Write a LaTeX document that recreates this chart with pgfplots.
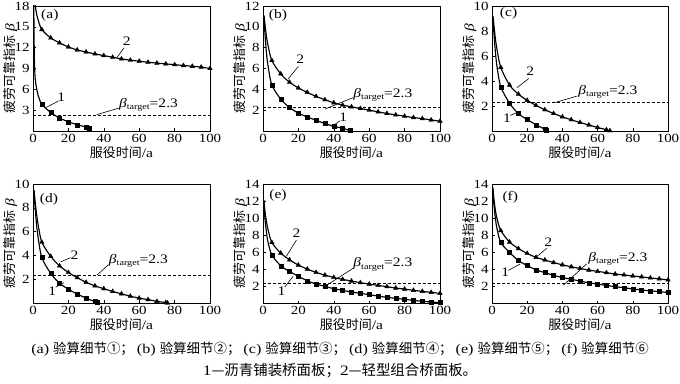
\documentclass[border=0pt]{standalone}
\usepackage{fontspec}
\setmainfont{Liberation Serif}[FakeStretch=1.2]
\newfontfamily\cjk{Noto Sans CJK SC}
\usepackage{pgfplots}
\usepackage{pgfplotstable}
\pgfplotsset{compat=1.18}

\pgfplotstableread{
x y
1.1 18.3
2 16.9
3 15.9
5 14.6
10 13.4
15 12.7
20 12.1
25 11.67
30 11.38
35 11.1
40 10.86
45 10.62
50 10.38
55 10.2
60 10.05
65 9.9
70 9.78
75 9.66
80 9.55
85 9.43
90 9.32
95 9.2
100 9.0
}\aTwo
\pgfplotstableread{
x y
0.45 18.5
0.7 11.5
1 8.6
1.5 6.95
3 5.05
5 3.86
10 2.67
15 1.86
20 1.33
25 0.9
30 0.57
31.5 0.45
}\aOne
\pgfplotstableread{
x y
0.6 11.1
1 10.4
2 9.0
3 8.1
5 6.77
10 5.48
15 4.68
20 4.13
25 3.71
30 3.32
35 3.0
40 2.71
45 2.48
50 2.32
55 2.16
60 2.0
65 1.84
70 1.68
75 1.55
80 1.42
85 1.29
90 1.19
95 1.06
100 0.94
}\bTwo
\pgfplotstableread{
x y
0.6 11.0
1 9.6
2 7.4
3 6.1
5 4.42
10 3.06
15 2.26
20 1.71
25 1.35
30 1.03
35 0.71
40 0.45
45 0.26
49 0.05
}\bOne
\pgfplotstableread{
x y
0.6 9.2
1 8.6
2 7.3
3 6.4
5 5.08
10 3.67
15 2.95
20 2.45
25 2.05
30 1.7
35 1.4
40 1.13
45 0.9
50 0.68
55 0.48
60 0.28
65 0.1
67 0.02
}\cTwo
\pgfplotstableread{
x y
0.6 9.0
1 8.0
2 6.2
3 5.0
5 3.53
10 2.22
15 1.39
20 0.92
25 0.5
30 0.14
30.8 0.05
}\cOne
\pgfplotstableread{
x y
0.6 9.5
1 8.8
2 7.5
3 6.5
5 5.11
10 3.92
15 3.12
20 2.57
25 2.13
30 1.74
35 1.44
40 1.2
45 0.97
50 0.77
55 0.57
60 0.41
65 0.28
70 0.14
75 0.03
76 0.0
}\dTwo
\pgfplotstableread{
x y
0.6 9.4
1 8.4
2 6.6
3 5.4
5 3.81
10 2.49
15 1.66
20 1.16
25 0.75
30 0.41
35 0.11
36 0.03
}\dOne
\pgfplotstableread{
x y
0.5 12.1
1 11.0
2 9.5
3 8.5
5 7.12
10 5.87
15 5.08
20 4.46
25 3.99
30 3.6
35 3.28
40 3.01
45 2.78
50 2.58
55 2.39
60 2.23
65 2.07
70 1.92
75 1.76
80 1.64
85 1.49
90 1.37
95 1.25
100 1.13
}\eTwo
\pgfplotstableread{
x y
0.5 12.1
1 10.2
2 8.2
3 7.0
5 5.67
10 4.38
15 3.72
20 3.13
25 2.62
30 2.23
35 1.96
40 1.68
45 1.49
50 1.29
55 1.13
60 0.98
65 0.82
70 0.66
75 0.55
80 0.43
85 0.31
90 0.2
95 0.12
100 0.04
}\eOne
\pgfplotstableread{
x y
0.5 13.6
1 12.4
2 10.8
3 9.8
5 8.52
10 7.17
15 6.41
20 5.83
25 5.37
30 5.06
35 4.76
40 4.49
45 4.26
50 4.07
55 3.87
60 3.72
65 3.57
70 3.41
75 3.3
80 3.18
85 3.07
90 2.95
95 2.84
100 2.72
}\fTwo
\pgfplotstableread{
x y
0.5 13.4
1 11.8
2 9.8
3 8.6
5 7.1
10 5.95
15 4.99
20 4.41
25 3.91
30 3.57
35 3.26
40 2.99
45 2.8
50 2.57
55 2.38
60 2.22
65 2.07
70 1.92
75 1.8
80 1.65
85 1.53
90 1.42
95 1.34
100 1.23
}\fOne

\pgfplotsset{
  panel/.style={
    scale only axis, width=177bp,
    xmin=0, xmax=100, ymin=0,
    xtick={0,20,...,100},
    tick align=inside, tick pos=left, major tick length=2.5bp,
    axis line style={line width=0.8pt},
    every tick/.style={line width=0.6pt, black},
    ticklabel style={font=\fontsize{12.5}{12.5}\selectfont},
    /pgf/number format/assume math mode=true,
    xlabel={{\cjk 服役时间}/a},
    ylabel={{\cjk 疲劳可靠指标} \textit{β}},
    label style={font=\fontsize{13}{13}\selectfont},
    xlabel style={yshift=3bp},
    ylabel style={at={(axis description cs:-0.088,0.5)}, anchor=south, inner sep=0pt},
  },
  crv/.style={black, line width=1.15pt, smooth, tension=0.5, mark=none},
  mk2/.style={black, only marks, mark=triangle*, mark size=2.6bp, restrict x to domain=4.5:101},
  mk1/.style={black, only marks, mark=square*, mark size=2bp, restrict x to domain=4.5:101},
  tgt/.style={black, line width=0.8pt, dash pattern=on 2.5bp off 2.5bp},
}
\tikzset{
  ann/.style={font=\fontsize{13}{13}\selectfont, inner sep=0pt},
  ld/.style={black, line width=0.6pt},
}
\newcommand{\btarget}{\textit{β}\raisebox{-0.35ex}{\fontsize{8.5}{8.5}\selectfont target}=2.3}

\begin{document}
\begin{tikzpicture}
\path[use as bounding box] (0,0) rectangle (680bp,384bp);

% (a)
\begin{axis}[panel, at={(33bp,253bp)}, anchor=south west, height=125bp, ymax=18, ytick={3,6,...,18}]
\addplot[crv] table {\aTwo};
\addplot[mk2] table {\aTwo};
\addplot[crv] table {\aOne};
\addplot[mk1] table {\aOne};
\addplot[tgt] coordinates {(0,2.3) (100,2.3)};
\draw[ld] (36,2.35) -- (48.5,3.3);
\node[ann, anchor=west] at (48.5,3.7) {\btarget};
\draw[ld] (51.5,12.0) -- (47.5,10.6);
\node[ann] at (53,12.9) {2};
\draw[ld] (14.3,4.3) -- (7.5,3.4);
\node[ann] at (16,4.8) {1};
\node[ann] at (9.5,16.7) {(a)};
\end{axis}

% (b)
\begin{axis}[panel, at={(263bp,253bp)}, anchor=south west, height=125bp, ymax=12, ytick={2,4,...,12}]
\addplot[crv] table {\bTwo};
\addplot[mk2] table {\bTwo};
\addplot[crv] table {\bOne};
\addplot[mk1] table {\bOne};
\addplot[tgt] coordinates {(0,2.3) (100,2.3)};
\draw[ld] (34.9,2.1) -- (50.9,3.2);
\node[ann, anchor=west] at (51,3.45) {\btarget};
\draw[ld] (20,6.2) -- (14.2,5.0);
\node[ann] at (21,6.85) {2};
\draw[ld] (43.4,0.97) -- (38.7,0.39);
\node[ann] at (45.3,1.35) {1};
\node[ann] at (8.5,11.1) {(b)};
\end{axis}

% (c)
\begin{axis}[panel, at={(492bp,253bp)}, anchor=south west, height=125bp, width=176bp, ymax=10, ytick={2,4,...,10}]
\addplot[crv] table {\cTwo};
\addplot[mk2] table {\cTwo};
\addplot[crv] table {\cOne};
\addplot[mk1] table {\cOne};
\addplot[tgt] coordinates {(0,2.3) (100,2.3)};
\draw[ld] (48.5,2.8) -- (35.8,2.28);
\node[ann, anchor=west] at (49,3.1) {\btarget};
\draw[ld] (20.9,4.2) -- (14.2,3.47);
\node[ann] at (21.7,4.75) {2};
\draw[ld] (10.4,1.25) -- (15,1.53);
\node[ann] at (8.5,1.06) {1};
\node[ann] at (9.4,9.4) {(c)};
\end{axis}

% (d)
\begin{axis}[panel, at={(33bp,81bp)}, anchor=south west, height=119bp, ymax=10, ytick={2,4,...,10}]
\addplot[crv] table {\dTwo};
\addplot[mk2] table {\dTwo};
\addplot[crv] table {\dOne};
\addplot[mk1] table {\dOne};
\addplot[tgt] coordinates {(0,2.3) (100,2.3)};
\draw[ld] (42.5,3.2) -- (36.2,2.35);
\node[ann, anchor=west] at (42.8,3.55) {\btarget};
\draw[ld] (21.2,3.81) -- (15.6,3.45);
\node[ann] at (23.5,4.05) {2};
\draw[ld] (12.8,1.33) -- (17.4,1.71);
\node[ann] at (10.9,0.97) {1};
\node[ann] at (9,8.7) {(d)};
\end{axis}

% (e)
\begin{axis}[panel, at={(263bp,81bp)}, anchor=south west, height=119bp, ymax=14, ytick={2,4,...,14}]
\addplot[crv] table {\eTwo};
\addplot[mk2] table {\eTwo};
\addplot[crv] table {\eOne};
\addplot[mk1] table {\eOne};
\addplot[tgt] coordinates {(0,2.3) (100,2.3)};
\draw[ld] (51,4.1) -- (35,1.96);
\node[ann, anchor=west] at (51,4.55) {\btarget};
\draw[ld] (18.9,7.4) -- (13.2,5.5);
\node[ann] at (18.9,8.25) {2};
\draw[ld] (12.3,1.88) -- (17,3.13);
\node[ann] at (10.4,1.37) {1};
\node[ann] at (8.5,12.7) {(e)};
\end{axis}

% (f)
\begin{axis}[panel, at={(492bp,81bp)}, anchor=south west, height=119bp, width=176bp, ymax=14, ytick={2,4,...,14}]
\addplot[crv] table {\fTwo};
\addplot[mk2] table {\fTwo};
\addplot[crv] table {\fOne};
\addplot[mk1] table {\fOne};
\addplot[tgt] coordinates {(0,2.3) (100,2.3)};
\draw[ld] (53.8,4.6) -- (40.6,2.11);
\node[ann, anchor=west] at (54.7,5.2) {\btarget};
\draw[ld] (31.1,6.44) -- (24.5,5.29);
\node[ann] at (32,7.15) {2};
\draw[ld] (9.4,3.84) -- (16,4.6);
\node[ann] at (7.5,3.64) {1};
\node[ann] at (10.4,12.4) {(f)};
\end{axis}

\node[font=\fontsize{13.5}{13.5}\selectfont, inner sep=0pt] at (340bp,35bp)
 {(a) {\cjk 验算细节①；}\hspace{3bp}(b) {\cjk 验算细节②；}\hspace{3bp}(c) {\cjk 验算细节③；}\hspace{3bp}(d) {\cjk 验算细节④；}\hspace{3bp}(e) {\cjk 验算细节⑤；}\hspace{3bp}(f) {\cjk 验算细节⑥}};
\node[font=\fontsize{14.5}{14.5}\selectfont, inner sep=0pt] at (340bp,13bp)
 {1{\cjk —沥青铺装桥面板；}2{\cjk —轻型组合桥面板。}};
\end{tikzpicture}
\end{document}
